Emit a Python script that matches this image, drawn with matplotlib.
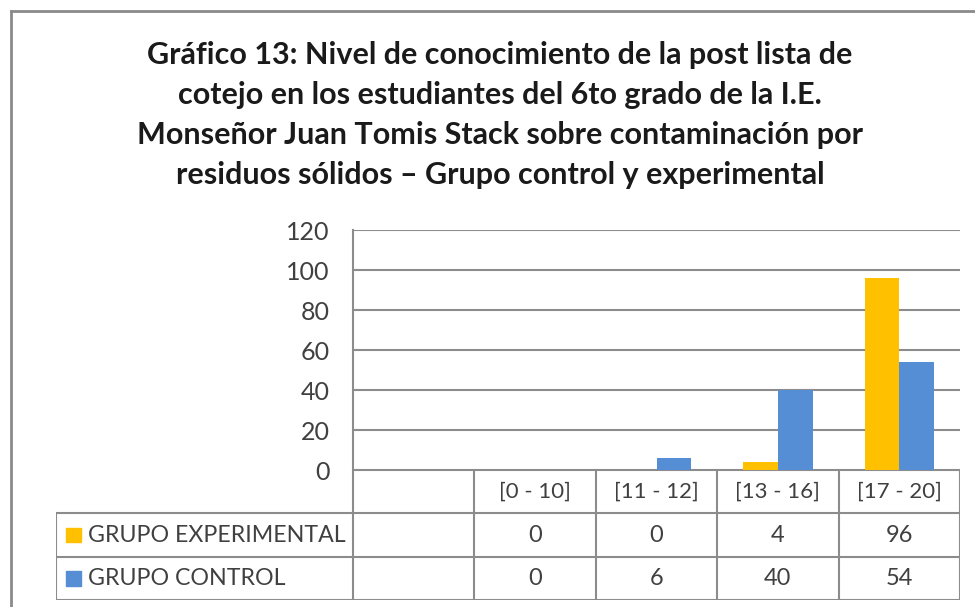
import numpy as np
import matplotlib.pyplot as plt

# data (first category is an empty column in the original)
categories = ['', '[0 - 10]', '[11 - 12]', '[13 - 16]', '[17 - 20]']
experimental = [np.nan, 0, 0, 4, 96]
control = [np.nan, 0, 6, 40, 54]
series_names = ['GRUPO EXPERIMENTAL', 'GRUPO CONTROL']
yticks = [0, 20, 40, 60, 80, 100, 120]
title = ('Gráfico 13: Nivel de conocimiento de la post lista de\n'
         'cotejo en los estudiantes del 6to grado de la I.E.\n'
         'Monseñor Juan Tomis Stack sobre contaminación por\n'
         'residuos sólidos – Grupo control y experimental')

plt.rcParams['font.family'] = ['Lato', 'DejaVu Sans']

W, H = 975, 607
fig = plt.figure(figsize=(W / 100, H / 100), dpi=100)
fig.patch.set_facecolor('white')

grid_col = '#8c8c8c'
text_col = '#404040'
colors = ['#FFC000', '#558ED5']


def box(l, t, r, b):
    return [l / W, 1 - b / H, (r - l) / W, (b - t) / H]


# outer chart frame (only top and left visible in the crop)
fig.add_artist(plt.Line2D([11 / W, 1], [1 - 11 / H, 1 - 11 / H],
                          color='#8a8a8a', lw=2, transform=fig.transFigure))
fig.add_artist(plt.Line2D([11 / W, 11 / W], [0, 1 - 11 / H],
                          color='#8a8a8a', lw=2, transform=fig.transFigure))

fig.text(500 / W, 1 - 115 / H, title, ha='center', va='center',
         fontsize=22, fontweight='bold', color='#1a1a1a', linespacing=1.52)

# bar chart
ax = fig.add_axes(box(353, 230, 960, 470))
x = np.arange(len(categories))
bw = 1 / 3.5
ax.bar(x - bw / 2, experimental, bw, color=colors[0], zorder=3)
ax.bar(x + bw / 2, control, bw, color=colors[1], zorder=3)
ax.set_xlim(-0.5, len(categories) - 0.5)
ax.set_ylim(0, 120)
ax.set_yticks(yticks)
ax.tick_params(axis='y', length=0, pad=17, labelsize=18, labelcolor=text_col)
ax.set_xticks([])
ax.yaxis.grid(True, color=grid_col, lw=1.5, zorder=0)
for s in ['top', 'right', 'bottom']:
    ax.spines[s].set_visible(False)
ax.spines['left'].set_color(grid_col)
ax.spines['left'].set_linewidth(1.5)

# data table below the plot
unit_px = (960 - 353) / len(categories)
x_left = -0.5 - (353 - 56) / unit_px
tab = fig.add_axes(box(56, 470, 960, 600))
tab.set_xlim(x_left, len(categories) - 0.5)
tab.set_ylim(3, 0)
tab.axis('off')

lkw = dict(color=grid_col, lw=1.5, solid_capstyle='butt')
xr = len(categories) - 0.5
tab.plot([-0.5, xr], [0, 0], **lkw)
for r in [1, 2, 3]:
    tab.plot([x_left, xr], [r, r], **lkw)
tab.plot([x_left, x_left], [1, 3], **lkw)
for c in range(len(categories) + 1):
    tab.plot([c - 0.5, c - 0.5], [0, 3], **lkw)

for i, lab in enumerate(categories):
    tab.text(i, 0.5, lab, ha='center', va='center', fontsize=16, color=text_col)

for r, (name, vals, col) in enumerate(zip(series_names, [experimental, control], colors)):
    yc = r + 1.5
    sw = 15 / unit_px
    sx = x_left + 10 / unit_px
    tab.add_patch(plt.Rectangle((sx, yc - 0.17), sw, 0.34, color=col))
    tab.text(x_left + 32 / unit_px, yc, name, ha='left', va='center',
             fontsize=16.7, color=text_col)
    for i, v in enumerate(vals):
        if not np.isnan(v):
            tab.text(i, yc, f'{v:g}', ha='center', va='center',
                     fontsize=17, color=text_col)

fig.savefig('out.png', dpi=100, facecolor='white')
